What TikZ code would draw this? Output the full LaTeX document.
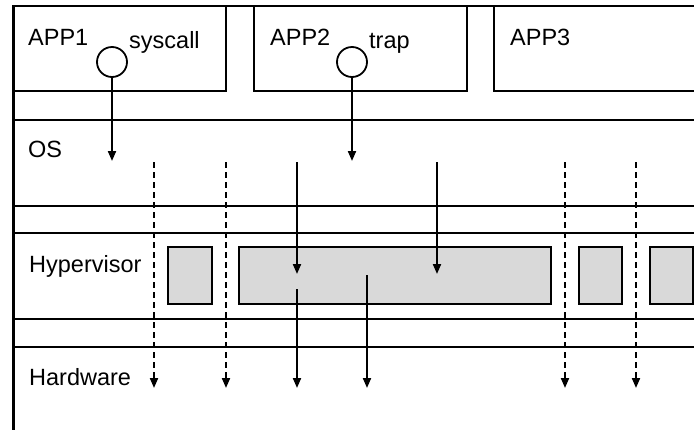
\documentclass[tikz,border=0pt]{standalone}
\usepackage{fontspec}
\setmainfont{Liberation Sans}
\usetikzlibrary{arrows.meta}
\definecolor{boxgray}{RGB}{217,217,217}
\begin{document}
\begin{tikzpicture}[x=1pt,y=-1pt,
  layer/.style={draw, line width=2pt, rectangle, inner sep=0pt},
  lbl/.style={anchor=base west, inner sep=0pt, font=\fontsize{23.5}{28}\selectfont},
  graybox/.style={draw, line width=2.2pt, fill=boxgray, rectangle, inner sep=0pt, minimum height=57pt},
  arr/.style={line width=2pt, -{Triangle[length=10pt,width=8pt]}},
  darr/.style={arr, dash pattern=on 6pt off 4pt},
  hook/.style={circle, draw, line width=1.8pt, minimum size=30pt, inner sep=0pt, fill=white}
]
\useasboundingbox (0,0) rectangle (694,429);

% application boxes
\node[layer, minimum width=213pt, minimum height=85pt] (app1) at (119.5,48.5) {};
\node[layer, minimum width=213pt, minimum height=85pt] (app2) at (360.5,48.5) {};
\node[layer, minimum width=213pt, minimum height=85pt] (app3) at (600.5,48.5) {};
\draw[line width=2.5pt] (13,6) -- (700,6);

% layers
\node[layer, minimum width=700pt, minimum height=86pt, anchor=north west] (os) at (13,119) {};
\node[layer, minimum width=700pt, minimum height=86pt, anchor=north west] (hyp) at (13,232) {};
\node[layer, minimum width=700pt, minimum height=100pt, anchor=north west] (hw) at (13,346) {};
\draw[line width=3pt] (13.5,5) -- (13.5,432);

% gray boxes in hypervisor
\node[graybox, minimum width=44pt] (g1) at (190,275.5) {};
\node[graybox, minimum width=312pt] (g2) at (395,275.5) {};
\node[graybox, minimum width=43pt] (g3) at (600.5,275.5) {};
\node[graybox, minimum width=43pt] (g4) at (671.5,275.5) {};

% labels
\node[lbl] (t1) at (28,45) {APP1};
\node[lbl] (t2) at (270,45) {APP2};
\node[lbl] (t3) at (510,45) {APP3};
\node[lbl] (t4) at (129,48) {syscall};
\node[lbl] (t5) at (369,48) {trap};
\node[lbl] (t6) at (28,157) {OS};
\node[lbl] (t7) at (29,272) {Hypervisor};
\node[lbl] (t8) at (29,385) {Hardware};

% hooks
\node[hook] (sys) at (112,62) {};
\node[hook] (trp) at (352,62) {};

% coordinates
\coordinate (sysEnd) at (112,161);
\coordinate (trpEnd) at (352,161);
\foreach \n/\x in {d1/154, d2/226, d3/565, d4/636} {
  \coordinate (\n t) at (\x,162);
  \coordinate (\n b) at (\x,388);
}
\coordinate (s1t) at (297,162);
\coordinate (s1m) at (297,274);
\coordinate (s1s) at (297,289);
\coordinate (s1b) at (297,388);
\coordinate (s2t) at (437,162);
\coordinate (s2m) at (437,274);
\coordinate (s3t) at (367,275);
\coordinate (s3b) at (367,388);

% connectors
\draw[arr] (sys.south) -- (sysEnd);
\draw[arr] (trp.south) -- (trpEnd);
\foreach \n in {d1,d2,d3,d4} {
  \draw[darr] (\n t) -- (\n b);
}
\draw[arr] (s1t) -- (s1m);
\draw[arr] (s1s) -- (s1b);
\draw[arr] (s2t) -- (s2m);
\draw[arr] (s3t) -- (s3b);
\end{tikzpicture}
\end{document}
